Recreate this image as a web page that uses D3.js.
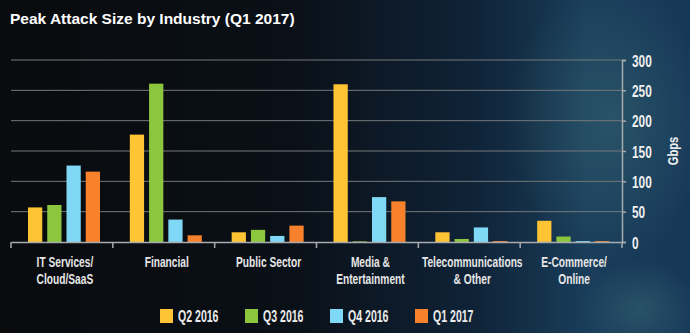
<!DOCTYPE html>
<html>
<head>
<meta charset="utf-8">
<script src="https://cdn.jsdelivr.net/npm/d3@7"></script>
<style>
  html, body { margin: 0; padding: 0; background: #0b0d10; }
  svg { display: block; }
</style>
</head>
<body>
<svg id="chart" width="690" height="333"></svg>
<script>
const categories = [
  ["IT Services/", "Cloud/SaaS"],
  ["Financial"],
  ["Public Sector"],
  ["Media &", "Entertainment"],
  ["Telecommunications", "& Other"],
  ["E-Commerce/", "Online"]
];
const seriesNames = ["Q2 2016", "Q3 2016", "Q4 2016", "Q1 2017"];
const seriesColors = ["#fec434", "#8cc63f", "#7fd8f6", "#f8812b"];
const q2_2016 = [57, 177, 16, 260, 16, 35];
const q3_2016 = [61, 261, 20, 1, 5, 9];
const q4_2016 = [126, 37, 10, 74, 24, 1.5];
const q1_2017 = [116, 11, 27, 67, 1.5, 1.5];
const values = [q2_2016, q3_2016, q4_2016, q1_2017];
const yTicks = [0, 50, 100, 150, 200, 250, 300];

const W = 690, H = 333;
const svg = d3.select("#chart");
const sans = "'Liberation Sans', Arial, sans-serif";

// background
let defs = svg.append("defs");
let bg = defs.append("linearGradient").attr("id", "bg").attr("x1", 0).attr("x2", 1).attr("y1", 0).attr("y2", 0);
bg.append("stop").attr("offset", "0%").attr("stop-color", "#090b0d");
bg.append("stop").attr("offset", "42%").attr("stop-color", "#0a1017");
bg.append("stop").attr("offset", "68%").attr("stop-color", "#0f2236");
bg.append("stop").attr("offset", "85%").attr("stop-color", "#193d5a");
bg.append("stop").attr("offset", "100%").attr("stop-color", "#163858");
let glow = defs.append("radialGradient").attr("id", "glow").attr("cx", 0.5).attr("cy", 0.5).attr("r", 0.5);
glow.append("stop").attr("offset", "0%").attr("stop-color", "#3d6f78").attr("stop-opacity", 0.45);
glow.append("stop").attr("offset", "100%").attr("stop-color", "#3d6f78").attr("stop-opacity", 0);

svg.append("rect").attr("width", W).attr("height", H).attr("fill", "url(#bg)");
svg.append("ellipse").attr("cx", 610).attr("cy", 120).attr("rx", 100).attr("ry", 140).attr("fill", "url(#glow)");
svg.append("ellipse").attr("cx", 640).attr("cy", 310).attr("rx", 60).attr("ry", 50).attr("fill", "url(#glow)");

// scales
let x0 = d3.scaleBand().domain(d3.range(categories.length)).range([11, 622]);
let x1 = d3.scaleBand().domain(d3.range(seriesNames.length)).range([17, 89]).paddingInner(0.26);
let y = d3.scaleLinear().domain([0, 300]).range([242, 60]);

// gridlines
svg.append("g")
  .selectAll("line")
  .data(yTicks.filter((d) => d > 0))
  .enter()
  .append("line")
  .attr("x1", 11)
  .attr("x2", 622)
  .attr("y1", (d) => y(d))
  .attr("y2", (d) => y(d))
  .attr("stroke", "#74787b")
  .attr("stroke-width", 1);

// bars
let groups = svg.append("g")
  .selectAll("g")
  .data(categories)
  .enter()
  .append("g")
  .attr("transform", (d, i) => "translate(" + x0(i) + ",0)");

groups.selectAll("rect")
  .data((d, i) => values.map((s, j) => ({ s: j, v: s[i] })))
  .enter()
  .append("rect")
  .attr("x", (d) => x1(d.s))
  .attr("width", x1.bandwidth())
  .attr("y", (d) => y(d.v))
  .attr("height", (d) => y(0) - y(d.v))
  .attr("fill", (d) => seriesColors[d.s]);

// x axis
let xAxis = d3.axisBottom(x0).tickValues([]).tickSizeOuter(0);
let xg = svg.append("g").attr("transform", "translate(0," + y(0) + ")").call(xAxis);
xg.select(".domain").attr("stroke", "#a9acae").attr("stroke-width", 1.5);
xg.selectAll(".sep")
  .data(d3.range(categories.length + 1))
  .enter()
  .append("line")
  .attr("class", "sep")
  .attr("x1", (d) => (d < categories.length ? x0(d) : 622))
  .attr("x2", (d) => (d < categories.length ? x0(d) : 622))
  .attr("y1", 0)
  .attr("y2", 6)
  .attr("stroke", "#a9acae")
  .attr("stroke-width", 1.5);

// category labels (condensed by horizontal scale)
let labels = svg.append("g")
  .selectAll("text")
  .data(categories)
  .enter()
  .append("text")
  .attr("transform", (d, i) => "translate(" + (x0(i) + x0.bandwidth() / 2 + 3) + ",267) scale(0.68,1)")
  .attr("text-anchor", "middle")
  .attr("fill", "#e6e6e6")
  .style("font-family", sans)
  .style("font-weight", "bold")
  .style("font-size", "15px");
labels.selectAll("tspan")
  .data((d) => d)
  .enter()
  .append("tspan")
  .attr("x", 0)
  .attr("dy", (d, i) => (i === 0 ? 0 : 17))
  .text((d) => d);

// y axis on right
let yAxis = d3.axisRight(y).tickValues(yTicks).tickSize(4).tickPadding(6);
let yg = svg.append("g").attr("transform", "translate(622,0)").call(yAxis);
yg.select(".domain").attr("stroke", "#a9acae").attr("stroke-width", 1.5);
yg.selectAll(".tick line").attr("stroke", "#a9acae").attr("stroke-width", 1.5);
yg.selectAll(".tick text")
  .attr("x", 0)
  .attr("transform", "translate(10,1) scale(0.74,1)")
  .attr("fill", "#f0f0f0")
  .style("font-family", sans)
  .style("font-weight", "bold")
  .style("font-size", "16px");

svg.append("text")
  .attr("transform", "translate(678,151) rotate(-90) scale(0.8,1)")
  .attr("text-anchor", "middle")
  .attr("fill", "#f0f0f0")
  .style("font-family", sans)
  .style("font-weight", "bold")
  .style("font-size", "14px")
  .text("Gbps");

// title
svg.append("text")
  .attr("x", 10)
  .attr("y", 24)
  .attr("fill", "#ffffff")
  .style("font-family", sans)
  .style("font-weight", "bold")
  .style("font-size", "15.5px")
  .text("Peak Attack Size by Industry (Q1 2017)");

// legend
let legend = svg.append("g")
  .selectAll("g")
  .data(seriesNames)
  .enter()
  .append("g")
  .attr("transform", (d, i) => "translate(" + (160 + i * 85) + ",309)");
legend.append("rect")
  .attr("width", 13)
  .attr("height", 14)
  .attr("fill", (d, i) => seriesColors[i]);
legend.append("text")
  .attr("transform", "translate(18,13) scale(0.64,1)")
  .attr("fill", "#ececec")
  .style("font-family", sans)
  .style("font-weight", "bold")
  .style("font-size", "16.5px")
  .text((d) => d);
</script>
</body>
</html>
